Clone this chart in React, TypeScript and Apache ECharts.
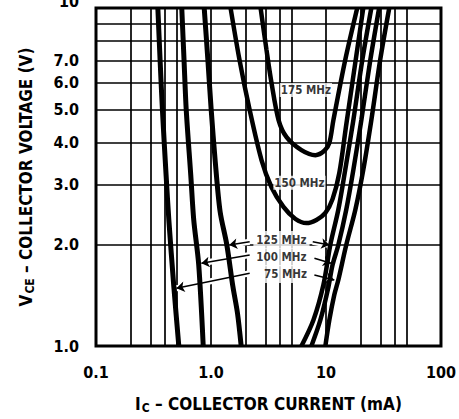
import { useEffect, useRef } from 'react';
import * as echarts from 'echarts';

const FONT = "'DejaVu Sans Condensed', 'Liberation Sans Narrow', 'DejaVu Sans', sans-serif";

// grid and tick values
const xGridValues = [0.2, 0.3, 0.4, 0.5, 1, 2, 3, 4, 5, 10, 20, 30, 40, 50];
const yGridValues = [2, 3, 4, 5, 6, 7, 8, 9];
const xTickValues = [0.1, 1, 10, 100];
const xTickLabels = ['0.1', '1.0', '10', '100'];
const yTickValues = [1, 2, 3, 4, 5, 6, 7, 10];
const yTickLabels = ['1.0', '2.0', '3.0', '4.0', '5.0', '6.0', '7.0', '10'];

// contour curves [IC (mA), VCE (V)]
const c75L = [[0.345, 10], [0.361, 7], [0.378, 5], [0.407, 3.2], [0.43, 2.36], [0.475, 1.5], [0.525, 1]];
const c100L = [[0.557, 10], [0.583, 7], [0.609, 5], [0.667, 3.2], [0.708, 2.36], [0.782, 1.74], [0.856, 1]];
const c125L = [[0.873, 10], [0.94, 7], [1.004, 5], [1.09, 3.5], [1.2, 2.5], [1.37, 2.0], [1.55, 1.5], [1.7, 1.25], [1.83, 1]];
const c150 = [[1.48, 10], [1.77, 7.02], [2.17, 4.99], [2.75, 3.55], [3.36, 2.95], [4.27, 2.58], [5.43, 2.375], [6.76, 2.31], [8.26, 2.36], [9.88, 2.475], [11.4, 2.72], [13.06, 3.25], [15.0, 4.51], [21.1, 10]];
const c175 = [[2.7, 10], [3.04, 7.51], [3.36, 6.0], [3.87, 4.66], [4.54, 4.15], [6.12, 3.8], [8.09, 3.67], [9.68, 3.78], [10.7, 3.99], [11.6, 4.66], [14.7, 7.02], [18.7, 10]];
const c125R = [[24.8, 10], [20.7, 7.02], [17.3, 4.66], [14.7, 3.32], [12.8, 2.53], [10.9, 1.99], [9.49, 1.515], [7.78, 1.194], [6.12, 1]];
const c100R = [[29.0, 10], [24.3, 7.02], [20.3, 4.66], [17.3, 3.32], [15.0, 2.53], [12.8, 1.99], [11.4, 1.736], [10.5, 1.495], [8.94, 1.194], [7.47, 1]];
const c75R = [[35.5, 10], [29.6, 7.02], [24.8, 4.66], [21.1, 3.32], [18.0, 2.53], [15.0, 1.99], [12.8, 1.568], [11.8, 1.415], [10.7, 1.194], [9.88, 1]];

// labels
const labelNames = ['175 MHz', '150 MHz', '125 MHz', '100 MHz', '75 MHz'];
const labelI = [6.69, 5.88, 4.1, 4.1, 4.45];
const labelV = [5.72, 3.04, 2.06, 1.83, 1.633];

// arrows: from -> to
const arrowFrom = [[2.17, 2.035], [7.67, 2.035], [2.17, 1.859], [7.93, 1.818], [2.17, 1.641], [7.93, 1.622]];
const arrowTo = [[1.44, 1.99], [10.7, 1.99], [0.825, 1.757], [11.07, 1.757], [0.501, 1.482], [11.82, 1.568]];

function near(a: number, b: number) {
  return Math.abs(Math.log10(a) - Math.log10(b)) < 1e-6;
}

export default function App() {
  const ref = useRef<HTMLDivElement>(null);
  useEffect(() => {
    const chart = echarts.init(ref.current!, null, { renderer: 'svg' });
    const curve = (data: number[][], width: number) => ({
      type: 'line',
      data,
      smooth: 0.3,
      symbol: 'none',
      silent: true,
      lineStyle: { color: '#000', width },
      z: 3,
    });
    const arrowData = arrowFrom.map((f, i) => ({ coords: [f, arrowTo[i]] }));
    const titleRich = {
      a: { fontSize: 17, fontWeight: 'bold', fontFamily: FONT, color: '#000' },
      b: { fontSize: 12, fontWeight: 'bold', fontFamily: FONT, color: '#000', padding: [9, 0, 0, 1] },
    };
    const yMax = yTickValues[yTickValues.length - 1];
    const tickText = { color: '#000', fontSize: 16, fontWeight: 'bold', fontFamily: FONT };
    const option: any = {
      animation: false,
      backgroundColor: '#fff',
      grid: {
        left: 96,
        top: 8,
        width: 346,
        height: 338,
        show: true,
        borderColor: '#000',
        borderWidth: 3,
        backgroundColor: '#fff',
      },
      xAxis: {
        type: 'log',
        logBase: 10,
        min: 0.1,
        max: 100,
        axisLine: { show: false },
        axisTick: { show: false },
        splitLine: { show: false },
        minorTick: { show: false },
        axisLabel: {
          margin: 18,
          ...tickText,
          formatter: (v: number) => {
            const i = xTickValues.findIndex((t) => near(t, v));
            return i >= 0 ? xTickLabels[i] : '';
          },
        },
        name: '{a|I}{b|C}{a| – COLLECTOR CURRENT (mA)}',
        nameLocation: 'middle',
        nameGap: 47,
        nameTextStyle: { rich: titleRich },
      },
      yAxis: {
        type: 'log',
        logBase: 10,
        min: 1,
        max: 10,
        axisLine: { show: false },
        axisTick: { show: false },
        splitLine: { show: false },
        minorTick: { show: false },
        axisLabel: {
          customValues: yTickValues.filter((v) => v < yMax),
          margin: 17,
          ...tickText,
          formatter: (v: number) => {
            const i = yTickValues.findIndex((t) => near(t, v));
            return i < 0 ? '' : yTickLabels[i];
          },
        },
        name: '{a|V}{b|CE}{a| – COLLECTOR VOLTAGE (V)}',
        nameLocation: 'middle',
        nameGap: 60,
        nameRotate: 90,
        nameTextStyle: { rich: titleRich },
      },
      series: [
        {
          ...curve(c75L, 5),
          markLine: {
            z: 1,
            silent: true,
            symbol: 'none',
            animation: false,
            label: { show: false },
            lineStyle: { color: '#000', width: 1.7, type: 'solid', opacity: 1 },
            emphasis: { disabled: true },
            data: [
              ...xGridValues.map((v) => ({ xAxis: v })),
              ...yGridValues.map((v) => ({ yAxis: v })),
              {
                yAxis: yMax,
                label: {
                  show: true,
                  position: 'start',
                  distance: 17,
                  formatter: yTickLabels[yTickLabels.length - 1],
                  ...tickText,
                  offset: [0, -7],
                },
              },
            ],
          },
        },
        curve(c100L, 5),
        curve(c125L, 5),
        curve(c150, 4.5),
        curve(c175, 4.5),
        curve(c125R, 4.5),
        curve(c100R, 4.5),
        curve(c75R, 4.5),
        {
          type: 'lines',
          coordinateSystem: 'cartesian2d',
          z: 2,
          silent: true,
          symbol: 'none',
          lineStyle: { color: '#fff', width: 6, opacity: 1 },
          data: arrowData,
        },
        {
          type: 'scatter',
          z: 4,
          silent: true,
          symbolSize: 1,
          itemStyle: { color: 'rgba(0,0,0,0)' },
          data: labelNames.map((n, i) => ({
            value: [labelI[i], labelV[i]],
            label: { padding: i < 2 ? [1, 1] : [3, 3] },
          })),
          label: {
            show: true,
            position: 'inside',
            formatter: (p: any) => labelNames[p.dataIndex],
            color: '#000',
            fontSize: 11.5,
            fontWeight: 'bold',
            fontFamily: FONT,
            backgroundColor: '#fff',
          },
        },
        {
          type: 'lines',
          coordinateSystem: 'cartesian2d',
          z: 5,
          silent: true,
          symbol: ['none', 'arrow'],
          symbolSize: [0, 8],
          lineStyle: { color: '#000', width: 1.5, opacity: 1 },
          data: arrowData,
        },
      ],
    };
    chart.setOption(option);
    return () => chart.dispose();
  }, []);
  return (
    <div
      ref={ref}
      style={{ position: 'fixed', left: 0, top: 0, width: 459, height: 419, background: '#fff' }}
    />
  );
}
